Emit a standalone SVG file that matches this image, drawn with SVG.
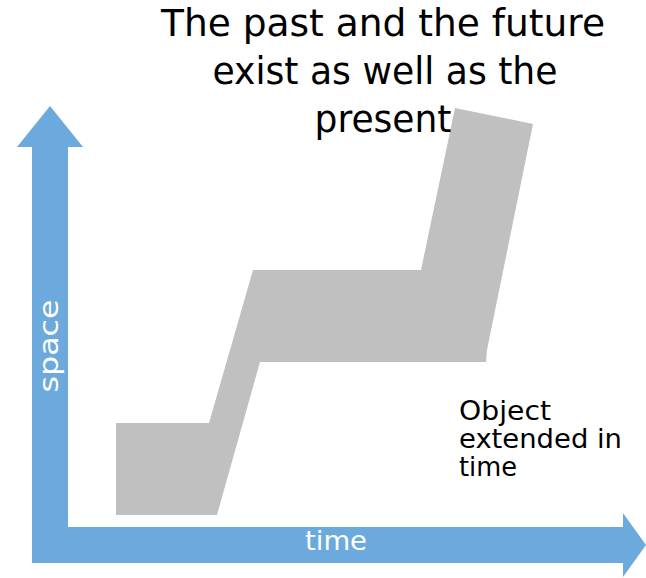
<svg xmlns="http://www.w3.org/2000/svg" width="646" height="578" viewBox="0 0 646 578">
  <style>
    .title { font-family: "Century Gothic", "DejaVu Sans", sans-serif; font-size: 37px; fill: #000; text-anchor: middle; }
    .note { font-family: "Century Gothic", "DejaVu Sans", sans-serif; font-size: 26px; fill: #000; }
    .axislabel { font-family: "Century Gothic", "DejaVu Sans", sans-serif; font-size: 27px; fill: #fff; text-anchor: middle; }
    .axis { fill: #6CAADD; }
    .obj { fill: #C0C0C0; }
  </style>
  <rect width="646" height="578" fill="#fff"/>
  <g id="axes">
    <polygon class="axis" points="50,106 83,147 68,147 68,527 623,527 623,513 646,545 623,577 623,563 32,563 32,147 17,147"/>
    <text class="axislabel" x="336" y="550" textLength="62" lengthAdjust="spacingAndGlyphs">time</text>
    <text class="axislabel" transform="translate(58,346) rotate(-90)" x="0" y="0" textLength="93" lengthAdjust="spacingAndGlyphs">space</text>
  </g>
  <g id="object">
    <polygon class="obj" points="116,423 209,423 253,270 421,270 455,108 533,124 487,350 486,362 260,362 217,515 116,515"/>
  </g>
  <g id="title">
    <text class="title" x="383" y="36" textLength="444" lengthAdjust="spacingAndGlyphs">The past and the future</text>
    <text class="title" x="385" y="84" textLength="345" lengthAdjust="spacingAndGlyphs">exist as well as the</text>
    <text class="title" x="383" y="132" textLength="137" lengthAdjust="spacingAndGlyphs">present</text>
  </g>
  <g id="label">
    <text class="note" x="459" y="420" textLength="92" lengthAdjust="spacingAndGlyphs">Object</text>
    <text class="note" x="459" y="448" textLength="163" lengthAdjust="spacingAndGlyphs">extended in</text>
    <text class="note" x="459" y="476" textLength="58" lengthAdjust="spacingAndGlyphs">time</text>
  </g>
</svg>
